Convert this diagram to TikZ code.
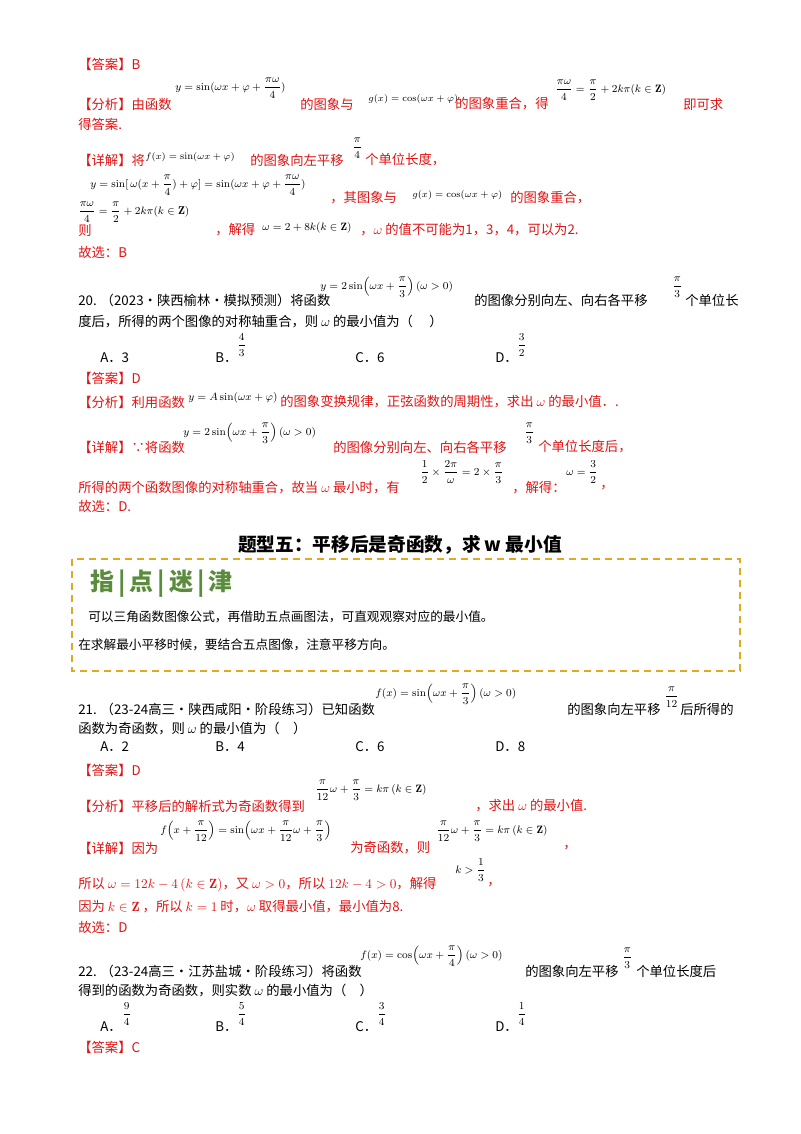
\documentclass[tikz,border=0pt]{standalone}
\usepackage{amsmath,amssymb}
\usepackage{fontspec}
\newfontfamily\cn{Noto Sans CJK SC}
\definecolor{ans}{RGB}{225,20,20}
\definecolor{gold}{RGB}{225,170,30}
\definecolor{leaf}{RGB}{90,140,60}
\begin{document}
\begin{tikzpicture}[x=0.75pt,y=-0.75pt,
 t/.style={anchor=west,inner sep=0,font=\cn\fontsize{10}{12}\selectfont},
 r/.style={t,text=ans},
 m/.style={anchor=west,inner sep=0,font=\fontsize{8}{9}\selectfont},
 box/.style={draw=gold,line width=1.3pt,dash pattern=on 5pt off 4pt}]
\useasboundingbox (0,0) rectangle (800,1134);
\fill[white] (0,0) rectangle (800,1134);
% block 1
\node[r] (a1) at (78,64) {【答案】B};
\node[m] (f1) at (175,88) {$y=\sin(\omega x+\varphi+\dfrac{\pi\omega}{4})$};
\node[r] (a2) at (78,104) {【分析】由函数};
\node[r] (a3) at (300,104) {的图象与};
\node[m,font=\fontsize{7}{8}\selectfont] (f2) at (368,99) {$g(x)=\cos(\omega x+\varphi)$};
\node[r] (a4) at (455,104) {的图象重合，得};
\node[m] (f3) at (555,90) {$\dfrac{\pi\omega}{4}=\dfrac{\pi}{2}+2k\pi(k\in\mathbf{Z})$};
\node[r] (a5) at (683,104) {即可求};
\node[r] (a6) at (78,124) {得答案.};
\node[r] (a7) at (78,160) {【详解】将};
\node[m,font=\fontsize{7.5}{8}\selectfont] (f4) at (145,157) {$f(x)=\sin(\omega x+\varphi)$};
\node[r] (a8) at (250,160) {的图象向左平移};
\node[m] (f5) at (352,148) {$\dfrac{\pi}{4}$};
\node[r] (a9) at (365,160) {个单位长度，};
\node[m] (f6) at (90,185) {$y=\sin[\,\omega(x+\dfrac{\pi}{4})+\varphi]=\sin(\omega x+\varphi+\dfrac{\pi\omega}{4})$};
\node[r] (a10) at (330,198) {，其图象与};
\node[m,font=\fontsize{7}{8}\selectfont] (f7) at (412,195) {$g(x)=\cos(\omega x+\varphi)$};
\node[r] (a11) at (510,198) {的图象重合，};
\node[m,font=\fontsize{8.5}{9}\selectfont] (f8) at (78,212) {$\dfrac{\pi\omega}{4}=\dfrac{\pi}{2}+2k\pi(k\in\mathbf{Z})$};
\node[r] (a12) at (78,230) {则};
\node[r] (a13) at (215,230) {，解得};
\node[m] (f9) at (262,228) {$\omega=2+8k(k\in\mathbf{Z})$};
\node[r] (a14) at (360,230) {，$\omega$ 的值不可能为1，3，4，可以为2.};
\node[r] (a15) at (78,252) {故选：B};
% Q20
\node[m] (f10) at (320,287) {$y=2\sin\!\left(\omega x+\dfrac{\pi}{3}\right)(\omega>0)$};
\node[t] (q1) at (78,300) {20. （2023·陕西榆林·模拟预测）将函数};
\node[t] (q2) at (474,300) {的图像分别向左、向右各平移};
\node[m] (f11) at (672,287) {$\dfrac{\pi}{3}$};
\node[t] (q3) at (685,300) {个单位长};
\node[t] (q4) at (78,322) {度后，所得的两个图像的对称轴重合，则 $\omega$ 的最小值为（\quad\ ）};
\node[t] (o1) at (100,358) {A．3};
\node[t] (o2) at (215,358) {B．};
\node[m] (o2f) at (237,345) {$\dfrac{4}{3}$};
\node[t] (o3) at (355,358) {C．6};
\node[t] (o4) at (495,358) {D．};
\node[m] (o4f) at (517,345) {$\dfrac{3}{2}$};
\node[r] (b1) at (78,378) {【答案】D};
\node[r] (b2) at (78,402) {【分析】利用函数};
\node[m] (f12) at (188,398) {$y=A\sin(\omega x+\varphi)$};
\node[r] (b3) at (280,402) {的图象变换规律，正弦函数的周期性，求出 $\omega$ 的最小值．.};
\node[m] (f13) at (183,433) {$y=2\sin\!\left(\omega x+\dfrac{\pi}{3}\right)(\omega>0)$};
\node[r] (b4) at (78,447) {【详解】∵将函数};
\node[r] (b5) at (333,447) {的图像分别向左、向右各平移};
\node[m] (f14) at (524,433) {$\dfrac{\pi}{3}$};
\node[r] (b6) at (538,447) {个单位长度后，};
\node[r] (b7) at (78,488) {所得的两个函数图像的对称轴重合，故当 $\omega$ 最小时，有};
\node[m] (f15) at (420,472) {$\dfrac{1}{2}\times\dfrac{2\pi}{\omega}=2\times\dfrac{\pi}{3}$};
\node[r] (b8) at (512,488) {，解得：};
\node[m] (f16) at (566,472) {$\omega=\dfrac{3}{2}$};
\node[r] (b9) at (600,488) {，};
\node[r] (b10) at (78,506) {故选：D.};
% section
\node[inner sep=0,font=\cn\fontsize{14}{16}\selectfont\bfseries] (h) at (400,545) {题型五：平移后是奇函数，求 w 最小值};
\draw[box] (72,559) rectangle (740,671);
\node[anchor=west,inner sep=0,text=leaf,font=\cn\fontsize{18}{20}\selectfont\bfseries] (tip) at (90,584) {指\,|\,点\,|\,迷\,|\,津};
\node[t,font=\cn\fontsize{9.5}{11}\selectfont] (tp1) at (88,617) {可以三角函数图像公式，再借助五点画图法，可直观观察对应的最小值。};
\node[t,font=\cn\fontsize{9.5}{11}\selectfont] (tp2) at (78,645) {在求解最小平移时候，要结合五点图像，注意平移方向。};
% Q21
\node[m] (f17) at (375,694) {$f(x)=\sin\!\left(\omega x+\dfrac{\pi}{3}\right)(\omega>0)$};
\node[t] (c1) at (78,709) {21. （23-24高三·陕西咸阳·阶段练习）已知函数};
\node[t] (c2) at (567,709) {的图象向左平移};
\node[m] (f18) at (664,697) {$\dfrac{\pi}{12}$};
\node[t] (c3) at (680,709) {后所得的};
\node[t] (c4) at (78,728) {函数为奇函数，则 $\omega$ 的最小值为（\quad ）};
\node[t] (c5) at (100,747) {A．2};
\node[t] (c6) at (215,747) {B．4};
\node[t] (c7) at (355,747) {C．6};
\node[t] (c8) at (495,747) {D．8};
\node[r] (d1) at (78,770) {【答案】D};
\node[m] (f19) at (315,790) {$\dfrac{\pi}{12}\omega+\dfrac{\pi}{3}=k\pi\left(k\in\mathbf{Z}\right)$};
\node[r] (d2) at (78,806) {【分析】平移后的解析式为奇函数得到};
\node[r] (d3) at (475,806) {，求出 $\omega$ 的最小值.};
\node[m] (f20) at (160,831) {$f\!\left(x+\dfrac{\pi}{12}\right)=\sin\!\left(\omega x+\dfrac{\pi}{12}\omega+\dfrac{\pi}{3}\right)$};
\node[r] (d4) at (78,848) {【详解】因为};
\node[r] (d5) at (350,848) {为奇函数，则};
\node[m] (f21) at (436,831) {$\dfrac{\pi}{12}\omega+\dfrac{\pi}{3}=k\pi\left(k\in\mathbf{Z}\right)$};
\node[r] (d6) at (563,848) {，};
\node[r] (d7) at (78,885) {所以 $\omega=12k-4\left(k\in\mathbf{Z}\right)$，又 $\omega>0$，所以 $12k-4>0$，解得};
\node[m] (f22) at (455,870) {$k>\dfrac{1}{3}$};
\node[r] (d8) at (487,885) {，};
\node[r] (d9) at (78,907) {因为 $k\in\mathbf{Z}$ ，所以 $k=1$ 时，$\omega$ 取得最小值，最小值为8.};
\node[r] (d10) at (78,927) {故选：D};
% Q22
\node[m] (f23) at (360,956) {$f(x)=\cos\!\left(\omega x+\dfrac{\pi}{4}\right)(\omega>0)$};
\node[t] (e1) at (78,971) {22. （23-24高三·江苏盐城·阶段练习）将函数};
\node[t] (e2) at (525,971) {的图象向左平移};
\node[m] (f24) at (622,958) {$\dfrac{\pi}{3}$};
\node[t] (e3) at (636,971) {个单位长度后};
\node[t] (e4) at (78,990) {得到的函数为奇函数，则实数 $\omega$ 的最小值为（\quad ）};
\node[t] (g1) at (100,1027) {A．};
\node[m] (g1f) at (122,1014) {$\dfrac{9}{4}$};
\node[t] (g2) at (215,1027) {B．};
\node[m] (g2f) at (237,1014) {$\dfrac{5}{4}$};
\node[t] (g3) at (355,1027) {C．};
\node[m] (g3f) at (377,1014) {$\dfrac{3}{4}$};
\node[t] (g4) at (495,1027) {D．};
\node[m] (g4f) at (517,1014) {$\dfrac{1}{4}$};
\node[r] (g5) at (78,1047) {【答案】C};
\end{tikzpicture}
\end{document}
